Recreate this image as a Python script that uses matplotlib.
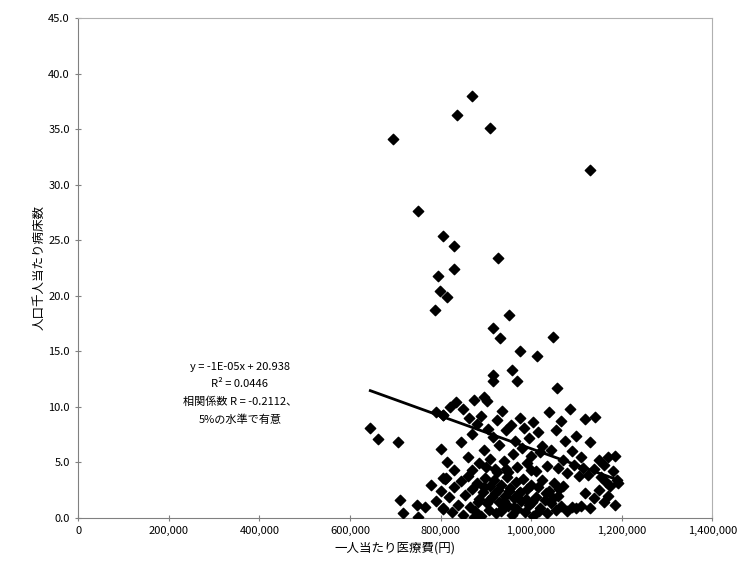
import matplotlib.pyplot as plt
import numpy as np

plt.rcParams['font.family'] = ['Noto Sans CJK JP', 'DejaVu Sans']

# outliers / upper points (x in thousand yen, y)
upper_x = [869, 837, 909, 696, 1130, 750, 806, 830, 928, 830, 795, 799, 814, 788, 952,
           917, 932, 1049, 976, 1013, 957, 917, 968, 1057, 917, 895, 902, 645, 663, 707,
           1141, 1185, 1193, 806, 806]
upper_y = [38.0, 36.3, 35.1, 34.1, 31.3, 27.6, 25.4, 24.5, 23.4, 22.4, 21.8, 20.4, 19.9, 18.7, 18.3,
           17.1, 16.2, 16.3, 15.0, 14.6, 13.3, 12.9, 12.3, 11.7, 12.3, 10.9, 10.5, 8.1, 7.1, 6.8,
           9.1, 5.6, 3.1, 9.3, 3.6]

mid_x = [790, 805, 820, 835, 850, 862, 875, 880, 890, 905, 915, 925, 935, 945, 955, 965, 975, 985,
         995, 1005, 1015, 1025, 1040, 1055, 1065, 1075, 1085, 1090, 1100, 1110, 1120, 1130, 1150,
         1160, 1170, 1180, 800, 815, 830, 845, 860, 870, 885, 895, 910, 920, 930, 940, 950, 960,
         970, 980, 990, 1000, 1010, 1020, 1035, 1045, 1060, 1070, 1080, 1095, 1105, 1115, 1125,
         1140, 1155, 1165, 1175, 1190]
mid_y = [9.5, 9.3, 10.0, 10.4, 9.8, 9.0, 10.6, 8.5, 9.2, 8.0, 7.3, 8.8, 9.6, 7.9, 8.4, 6.9, 9.0, 8.1,
         7.2, 8.6, 7.7, 6.5, 9.5, 7.9, 8.7, 6.9, 9.8, 6.0, 7.4, 5.5, 8.9, 6.8, 5.2,
         4.8, 5.5, 4.2, 6.2, 5.0, 4.3, 6.8, 5.5, 7.6, 4.9, 6.1, 5.3, 4.4, 6.6, 5.1, 4.1, 5.8,
         4.6, 6.3, 4.9, 5.6, 4.2, 5.9, 4.7, 6.1, 4.5, 5.2, 4.0, 4.8, 3.8, 4.5, 3.9,
         4.4, 3.7, 3.2, 2.9, 3.4]

low_x = [780, 790, 800, 805, 812, 818, 825, 830, 838, 845, 850, 855, 860, 865, 870, 876, 880, 885,
         890, 894, 898, 902, 906, 910, 914, 918, 922, 926, 930, 934, 938, 942, 946, 950, 954, 958,
         962, 966, 970, 974, 978, 982, 986, 990, 995, 1000, 1005, 1010, 1015, 1020, 1025, 1030,
         1035, 1040, 1045, 1050, 1055, 1060, 1065, 1070, 1080, 1090, 1100, 1110, 1120, 1130, 1140,
         1150, 1160, 1170, 1185, 870, 900, 925, 945, 1000,
         711, 718, 748, 766, 751, 810, 806, 873,
         882, 896, 908, 920, 933, 941, 952, 963, 976, 988, 1003, 1018, 1032, 1048, 1062]
low_y = [3.0, 1.5, 2.4, 0.8, 3.6, 1.9, 0.5, 2.8, 1.2, 3.3, 0.3, 2.1, 3.8, 1.0, 2.6, 0.6, 3.1, 1.7,
         0.2, 2.3, 3.6, 1.3, 0.7, 2.9, 1.9, 3.4, 0.4, 2.5, 1.4, 3.0, 0.9, 2.0, 3.7, 1.1, 2.7, 0.3,
         1.8, 3.2, 0.8, 2.2, 1.5, 3.5, 0.5, 2.6, 1.2, 3.0, 0.2, 1.9, 2.8, 0.9, 3.4, 1.6,
         0.4, 2.4, 1.3, 3.1, 0.7, 2.0, 1.1, 2.9, 0.6, 1.0, 0.9, 1.1, 2.2, 0.9, 1.8,
         2.5, 1.4, 2.0, 1.2, 4.3, 4.6, 4.1, 4.4, 4.3,
         1.6, 0.4, 1.2, 1.0, 0.1, 3.5, 0.9, 0.1,
         1.4, 2.8, 1.6, 2.2, 0.6, 1.5, 2.4, 1.0, 2.3, 1.7, 1.4, 0.6, 2.2, 1.8, 2.6]

x = np.array(upper_x + mid_x + low_x) * 1000
y = np.array(upper_y + mid_y + low_y)

slope = -1.47e-5
intercept = 20.938

fig = plt.figure(figsize=(7.45, 5.8), dpi=100)
ax = fig.add_axes([0.105, 0.107, 0.851, 0.862])

ax.scatter(x, y, marker='D', s=28, color='black', zorder=3)

xl = np.array([x.min(), x.max()])
ax.plot(xl, slope * xl + intercept, color='black', lw=2, zorder=4)

ax.text(357000, 11.2,
        'y = -1E-05x + 20.938\nR² = 0.0446\n相関係数 R = -0.2112、\n5%の水準で有意',
        ha='center', va='center', fontsize=8, linespacing=1.9)

ax.set_xlim(0, 1400000)
ax.set_ylim(0, 45)
ax.set_xticks(np.arange(0, 1400001, 200000))
ax.set_xticklabels([f'{v:,}' for v in range(0, 1400001, 200000)], fontsize=8)
ax.set_yticks(np.arange(0, 45.1, 5))
ax.set_yticklabels([f'{v:.1f}' for v in np.arange(0, 45.1, 5)], fontsize=8)
ax.tick_params(direction='inout', length=5, color='#808080')

ax.set_xlabel('一人当たり医療費(円)', fontsize=9)
ax.set_ylabel('人口千人当たり病床数', fontsize=9, labelpad=2)

for side in ['left', 'bottom']:
    ax.spines[side].set_color('#808080')
for side in ['top', 'right']:
    ax.spines[side].set_color('#b0b0b0')

fig.savefig('out.png', dpi=100)
